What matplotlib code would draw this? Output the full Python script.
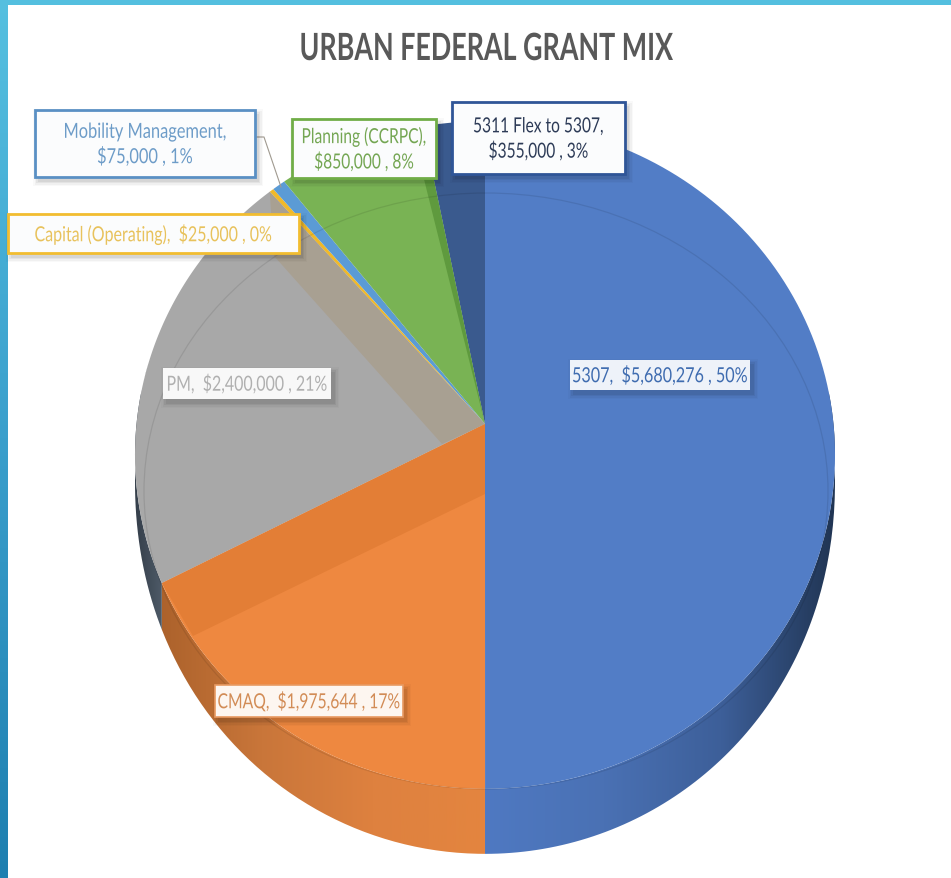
#!/usr/bin/env python3

import numpy as np
import matplotlib
matplotlib.use('Agg')
import matplotlib.pyplot as plt
from matplotlib.colors import LinearSegmentedColormap
from matplotlib.patches import Ellipse, PathPatch, Rectangle
from matplotlib.path import Path
from matplotlib.patheffects import AbstractPathEffect
from matplotlib.transforms import Affine2D

plt.rcParams['font.family'] = ['Lato', 'Open Sans', 'DejaVu Sans']

# Slices run clockwise from twelve o'clock
categories = ['5307', 'CMAQ', 'PM', 'Capital (Operating)', 'Mobility Management',
              'Planning (CCRPC)', '5311 Flex to 5307']
amounts = [5680276, 1975644, 2400000, 25000, 75000, 850000, 355000]
percents = [50, 17, 21, 0, 1, 8, 3]
colors = ['#527dc6', '#ee8840', '#a8a8a8', '#f0b92a', '#5b9bd5', '#79b354', '#3a5a8e']

W, H = 951, 879
APEX_X, APEX_Y = 485, 425
DISC_A, DISC_B, DISC_K = 348.5, 331, 0.0928


class Condensed(AbstractPathEffect):
    """Squeeze text horizontally about a fixed display x."""

    def __init__(self, cx, squeeze):
        super().__init__()
        self.cx = cx
        self.squeeze = squeeze

    def draw_path(self, renderer, gc, tpath, affine, rgbFace=None):
        squeeze = Affine2D().translate(-self.cx, 0).scale(self.squeeze, 1).translate(self.cx, 0)
        renderer.draw_path(gc, tpath, affine + squeeze, rgbFace)


def fitted_text(ax, x, y, text, width, **kwargs):
    """Text centred on (x, y) and condensed to a given pixel width."""
    t = ax.text(x, y, text, ha='center', va='center', **kwargs)
    renderer = ax.figure.canvas.get_renderer()
    natural = t.get_window_extent(renderer).width
    t.set_path_effects([Condensed(ax.transData.transform((x, y))[0], width / natural)])
    return t


def rim(frac):
    """Project a fraction of the way round the disc onto the tilted pie top."""
    t = 2 * np.pi * np.asarray(frac)
    u, v = np.sin(t), np.cos(t)
    d = 1 + DISC_K * v
    return APEX_X + DISC_A * u / d, APEX_Y - DISC_B * v / d


def arc(f0, f1, n=120):
    return rim(np.linspace(f0, f1, n))


def side_path(f0, f1):
    x, y = arc(f0, f1)
    v = np.cos(2 * np.pi * np.linspace(f0, f1, 120))
    drop = 65 * np.sqrt(np.clip(0.1 - v, 0, None) / 1.1)
    xs = np.r_[x, x[::-1]]
    ys = np.r_[y, (y + drop)[::-1]]
    return Path(np.c_[xs, ys])


def gradient_fill(ax, path, x0, x1, stops):
    cmap = LinearSegmentedColormap.from_list('side', stops)
    im = ax.imshow(np.linspace(0, 1, 256)[None, :], cmap=cmap, aspect='auto',
                   extent=(x0, x1, H, 0), zorder=1)
    patch = PathPatch(path, transform=ax.transData, fc='none', ec='none')
    ax.add_patch(patch)
    im.set_clip_path(patch)


def label_box(ax, box, text, width, color, edge=None, lw=2.0, face='#fbfcfd'):
    x0, y0, x1, y1 = box
    # soft drop shadow out of a few stacked rectangles
    for grow, alpha in [(5, 0.025), (3.5, 0.035), (2, 0.05), (0.5, 0.06)]:
        ax.add_patch(Rectangle((x0 + 3 - grow, y0 + 4 - grow), x1 - x0 + 2 * grow,
                               y1 - y0 + 2 * grow, fc='black', ec='none', alpha=alpha, zorder=5))
    ax.add_patch(Rectangle((x0, y0), x1 - x0, y1 - y0, fc=face, ec=edge or 'none',
                           lw=lw, zorder=6))
    fitted_text(ax, (x0 + x1) / 2, (y0 + y1) / 2 + 1, text, width, color=color, fontsize=15,
                linespacing=1.3, zorder=7)


fig = plt.figure(figsize=(W / 100, H / 100), dpi=100)
ax = fig.add_axes([0, 0, 1, 1])
ax.set_xlim(0, W)
ax.set_ylim(H, 0)
ax.axis('off')

# Slide frame
frame = LinearSegmentedColormap.from_list('frame', ['#55c0e0', '#3a9fcc', '#1e7fb0'])
ax.imshow(np.linspace(0, 1, 256)[:, None], cmap=frame, aspect='auto', extent=(0, 8, H, 0), zorder=0)
ax.add_patch(Rectangle((0, 0), W, 6, fc='#54bfdf', ec='none', zorder=0))

fitted_text(ax, 486, 50, 'URBAN FEDERAL GRANT MIX', 373, color='#595959', fontsize=27,
            fontweight='bold')

total = sum(amounts)
edges = np.r_[0, np.cumsum(amounts)] / total

# Pie wall, lit from the front
gradient_fill(ax, side_path(0.18, 0.5), 485, 840, ['#4f79c2', '#4a71b4', '#3d5f99', '#1f3350'])
gradient_fill(ax, side_path(0.5, edges[2]), 150, 485,
              ['#a9602a', '#c9763a', '#de813f', '#e4853f'])
gradient_fill(ax, side_path(edges[2], 0.78), 130, 170, ['#2f3944', '#566270'])

# Pie top
for f0, f1, c in zip(edges[:-1], edges[1:], colors):
    x, y = arc(f0, f1)
    ax.fill(np.r_[APEX_X, x], np.r_[APEX_Y, y], color=c, lw=0, zorder=2)

# Darker bands lying on the top surface
x, y = arc(0.963, edges[6])
ax.fill(np.r_[APEX_X, x], np.r_[APEX_Y, y], color='#5f9a3e', lw=0, zorder=3)
rx, ry = rim(edges[3])
ax.fill([APEX_X, rx, 274, 442], [APEX_Y, ry, 257, 445], color='#a8a092', lw=0, zorder=3)
ox, oy = rim(edges[2])
ax.fill([APEX_X, ox, 193, APEX_X], [APEX_Y, oy, 637, 495], color='#e37e36', lw=0, zorder=3)

# Bevel line on the top surface
ax.add_patch(Ellipse((486, 492), 684, 596, fc='none', ec='black', lw=0.9, alpha=0.09, zorder=4))

# Leader from the Mobility Management box to its slice
ax.plot([255, 264, 281], [138, 138, 188], color='#a09a90', lw=0.8, zorder=4)

texts = [f'{c},  ${a:,} , {p}%' for c, a, p in zip(categories, amounts, percents)]
label_box(ax, (570, 361, 750, 391), texts[0], 176, '#3f6cb0', face='#eef2f9')
label_box(ax, (215, 686, 403, 718), texts[1], 183, '#d28c56', edge='#e89a62', lw=1.2, face='#fdf6f0')
label_box(ax, (163, 369, 331, 400), texts[2], 161, '#b0b0b0', face='#f8f8f8')
label_box(ax, (8, 215, 299, 254), texts[3], 238, '#e8c25c', edge='#f2bd30')
label_box(ax, (35, 111, 255, 178), f'{categories[4]},\n${amounts[4]:,} , {percents[4]}%',
          163, '#6d9cc8', edge='#5a90c4')
label_box(ax, (292, 120, 436, 179), f'{categories[5]},\n${amounts[5]:,} , {percents[5]}%',
          125, '#74a653', edge='#70ad47')
label_box(ax, (452, 103, 625, 175), f'{categories[6]},\n${amounts[6]:,} , {percents[6]}%',
          131, '#2d3b57', edge='#2f5597')

ax.set_xlim(0, W)
ax.set_ylim(H, 0)
fig.savefig('out.png', dpi=100, facecolor='white')
